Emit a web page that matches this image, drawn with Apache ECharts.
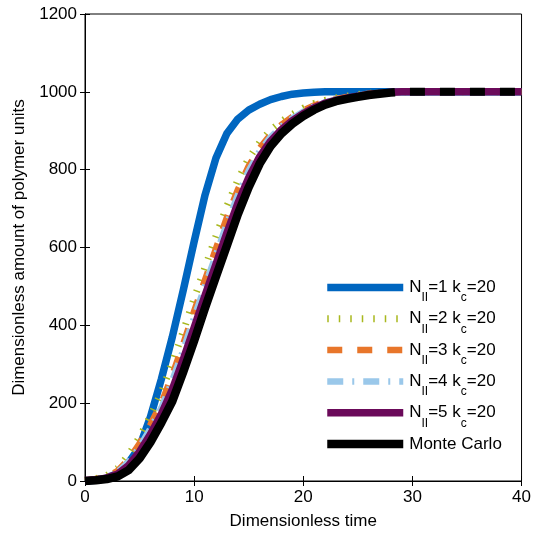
<!DOCTYPE html>
<html><head><meta charset="utf-8">
<script src="https://cdn.jsdelivr.net/npm/echarts@6/dist/echarts.min.js"></script>
<style>html,body{margin:0;padding:0;background:#fff}#c{width:534px;height:535px}</style>
</head><body><div id="c"></div>
<script>
const time = [0,1,2,3,4,5,6,7,8,9,10,11,12,13,14,15,16,17,18,19,20,21,22,23,24,25,26,27,28,29,30,35,40];
const n1 = [0,2,7,20,47,88,165,262,370,490,615,735,830,893,930,953,968,980,988,994,997,999,1000,1000,1000,1000,1000,1000,1000,1000,1000,1000,1000];
const n2 = [1,6,14,33,67,113,167,228,304,384,469,549,629,706,773,829,870,901,924,942,958,970,978,984,989,993,996,998,999,1000,1000,1000,1000];
const n3 = [1,5,11,26,55,96,145,200,272,352,436,517,597,677,748,809,855,890,915,936,952,965,975,981,987,991,995,997,999,1000,1000,1000,1000];
const n4 = [1,4,10,23,49,87,135,188,258,336,420,501,581,661,734,797,847,883,911,932,949,963,973,980,986,991,994,997,999,1000,1000,1000,1000];
const n5 = [1,3,8,18,40,75,120,172,235,312,394,477,557,637,713,779,833,873,903,926,944,959,971,978,984,989,993,996,999,1000,1000,1000,1000];
const mcTime = [0,1,2,3,4,5,6,7,8,9,10,11,12,13,14,15,16,17,18,19,20,21,22,23,24,25,26,27,28,28.4];
const mc = [0,2,5,12,28,58,100,150,205,280,360,445,525,605,685,755,815,860,893,918,938,954,967,976,982,987,992,995,998,999];
const mcTailTime = [28.4,29,30,35,40];
const mcTail = [999,1000,1000,1000,1000];
const names = ['N1','N2','N3','N4','N5','Monte Carlo'];
const legendTexts = ['{a|N}{b|II}{a|=1 k}{b|c}{a|=20}','{a|N}{b|II}{a|=2 k}{b|c}{a|=20}','{a|N}{b|II}{a|=3 k}{b|c}{a|=20}','{a|N}{b|II}{a|=4 k}{b|c}{a|=20}','{a|N}{b|II}{a|=5 k}{b|c}{a|=20}','{a|Monte Carlo}{b| }'];
const xTicks = {min:0,max:40,interval:10};
const yTicks = {min:0,max:1200,interval:200};

function pairs(xs, ys){ return xs.map((x,i)=>[x, ys[i]]); }
const F = 'Liberation Sans, Arial, sans-serif';
const chart = echarts.init(document.getElementById('c'));
function mk(name, xs, ys, color, width, type, z, offset){
  return {
    name, type:'line', data: pairs(xs, ys), showSymbol:false, symbol:'none', z,
    lineStyle:{color, width, type, cap:'butt', join:'round', dashOffset: offset||0}, itemStyle:{color},
    animation:false, emphasis:{disabled:true}
  };
}
const axisCommon = {
  axisLine:{show:true, lineStyle:{color:'#000', width:1}},
  axisTick:{show:true, inside:true, length:5, lineStyle:{color:'#000'}},
  splitLine:{show:false}
};
chart.setOption({
  backgroundColor:'#fff',
  grid:{left:85, right:9, top:14, bottom:53, show:true, borderColor:'#000', borderWidth:1},
  xAxis:[
    Object.assign({type:'value', min:xTicks.min, max:xTicks.max, interval:xTicks.interval, position:'bottom',
      name:'Dimensionless time', nameLocation:'middle', nameGap:32,
      nameTextStyle:{color:'#000', fontSize:17, fontFamily:F},
      axisLabel:{color:'#000', fontSize:17, fontFamily:F, margin:8, formatter:v=>String(v)}}, axisCommon),
    Object.assign({type:'value', min:xTicks.min, max:xTicks.max, interval:xTicks.interval, position:'top', axisLabel:{show:false}}, axisCommon)
  ],
  yAxis:[
    Object.assign({type:'value', min:yTicks.min, max:yTicks.max, interval:yTicks.interval, position:'left',
      name:'Dimensionless amount of polymer units', nameLocation:'middle', nameGap:38,
      nameTextStyle:{color:'#000', fontSize:17, fontFamily:F},
      axisLabel:{color:'#000', fontSize:17, fontFamily:F, margin:8, formatter:v=>String(v)}}, axisCommon),
    Object.assign({type:'value', min:yTicks.min, max:yTicks.max, interval:yTicks.interval, position:'right', axisLabel:{show:false}}, axisCommon)
  ],
  legend:{
    data: names, orient:'vertical', left:323, top:271, padding:0, itemGap:-1.7,
    itemWidth:76, itemHeight:14,
    itemStyle:{color:'rgba(0,0,0,0)', borderWidth:0, opacity:0},
    lineStyle:{width:'inherit'},
    formatter: function(name){ return legendTexts[names.indexOf(name)]; },
    textStyle:{color:'#000', fontFamily:F, padding:[0,0,0,1],
      rich:{ a:{fontSize:17, lineHeight:33, fontFamily:F, color:'#000'},
             b:{fontSize:12, lineHeight:12, padding:[21,0,0,0], fontFamily:F, color:'#000'} }},
    selectedMode:false
  },
  series:[
    mk('N1', time, n1, '#0066c0', 7.5, 'solid', 2),
    mk('N2', time, n2, '#a9b81e', 7, [1.5,10], 3),
    mk('N3', time, n3, '#e8762a', 6.5, [15,15], 4),
    mk('N4', time, n4, '#9ac8ea', 6.5, [16,9,2,9], 5),
    mk('N5', time, n5, '#6b0a5a', 7.5, 'solid', 6),
    mk('Monte Carlo', mcTime, mc, '#000', 8.5, 'solid', 7),
    mk('MC tail', mcTailTime, mcTail, '#000', 8, [15,15], 8, 15)
  ]
});
</script></body></html>
